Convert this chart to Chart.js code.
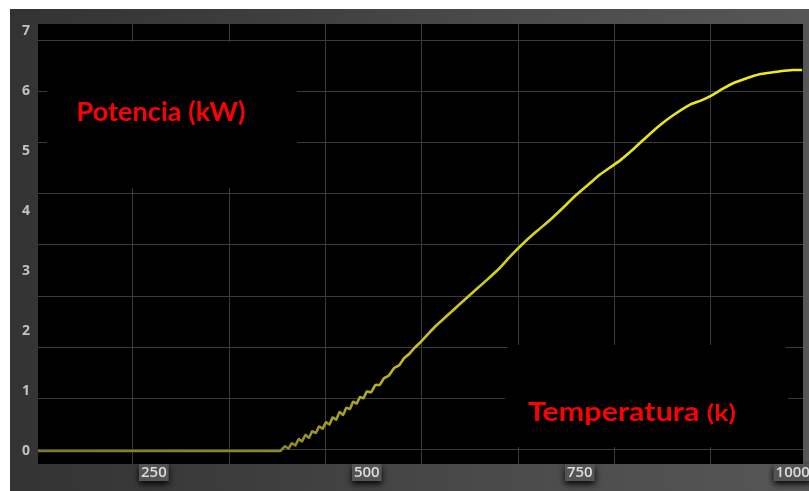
<!DOCTYPE html>
<html>
<head>
<meta charset="utf-8">
<script src="https://cdn.jsdelivr.net/npm/chart.js@4/dist/chart.umd.min.js"></script>
<style>
  html, body { margin: 0; padding: 0; background: #fff; }
  #marco {
    position: absolute; left: 10px; top: 9px; width: 799px; height: 482px;
    background: linear-gradient(to right, #333 0%, #3d3d3d 30%, #4a4a4a 60%, #565656 100%);
  }
  canvas { display: block; }
</style>
</head>
<body>
<div id="marco"><canvas id="grafica" width="799" height="482"></canvas></div>
<script>
  // Temperatura (K) y potencia (kW)
  const temperatura = [114, 398, 400, 404, 408, 412, 416, 420, 424, 428, 432, 436, 440, 444, 448, 452, 456, 460, 464, 468,
    472, 476, 480, 484, 488, 492, 496, 500, 505, 510, 515, 520, 526, 532, 538, 544, 550, 556, 562,
    580, 600, 621, 640, 656, 670, 685, 700, 715, 730, 746, 760, 773, 785, 797, 812, 828, 844, 860,
    879, 892, 904, 917, 930, 945, 961, 975, 985, 1000, 1011];
  const potencia = [0, 0, 0.02, 0.08, 0.04, 0.13, 0.09, 0.2, 0.16, 0.27, 0.22, 0.33, 0.3, 0.41, 0.37, 0.48, 0.44, 0.56, 0.52, 0.65,
    0.6, 0.72, 0.7, 0.82, 0.79, 0.9, 0.88, 0.99, 0.98, 1.1, 1.1, 1.21, 1.26, 1.38, 1.43, 1.55, 1.62, 1.72, 1.8,
    2.07, 2.33, 2.6, 2.84, 3.05, 3.27, 3.48, 3.67, 3.85, 4.05, 4.27, 4.44, 4.6, 4.72, 4.84, 5.02, 5.23, 5.43, 5.6,
    5.77, 5.84, 5.92, 6.03, 6.13, 6.21, 6.28, 6.31, 6.33, 6.35, 6.35];

  const ticksX = [250, 500, 750, 1000];
  const ticksY = [0, 1, 2, 3, 4, 5, 6, 7];
  // la rejilla de la captura no coincide con las etiquetas
  const rejillaX = [1, 2, 3, 4, 5, 6, 7];
  const rejillaY = [0, 1, 2, 3, 4, 5, 6, 7, 8];

  const tituloY = "Potencia (kW)";
  const tituloX = "Temperatura ";
  const unidadX = "(k)";

  const fijarTicks = (valores) => (scale) => { scale.ticks = valores.map(v => ({ value: v })); };

  // fondo negro, cajas de las etiquetas del eje X
  const fondo = {
    id: "fondo",
    beforeDraw(chart) {
      const { ctx, chartArea: a } = chart;
      ctx.save();
      ctx.fillStyle = "#000";
      ctx.fillRect(a.left, a.top, a.right - a.left, a.bottom - a.top);
      const sx = chart.scales.x;
      ctx.font = "600 15px 'Open Sans'";
      ticksX.forEach(v => {
        const px = sx.getPixelForValue(v);
        const w = ctx.measureText(String(v)).width + 4;
        ctx.shadowColor = "rgba(0,0,0,0.95)";
        ctx.shadowBlur = 6;
        ctx.shadowOffsetY = 3;
        ctx.fillStyle = "#545454";
        ctx.fillRect(px - w / 2, a.bottom, w, 17);
      });
      ctx.restore();
    },
    beforeDatasetsDraw(chart) {
      const { ctx } = chart;
      ctx.save();
      ctx.fillStyle = "#000";
      ctx.fillRect(37, 33, 250, 146);
      const caja = [495, 336, 778, 438], c = 5;
      ctx.beginPath();
      ctx.moveTo(caja[0] + c, caja[1]);
      ctx.lineTo(caja[2] - c, caja[1]);
      ctx.lineTo(caja[2], caja[1] + c);
      ctx.lineTo(caja[2], caja[3]);
      ctx.lineTo(caja[0], caja[3]);
      ctx.lineTo(caja[0], caja[1] + c);
      ctx.closePath();
      ctx.fill();

      ctx.fillStyle = "#ff0000";
      ctx.textBaseline = "alphabetic";
      // Potencia (kW)
      ctx.font = "bold 26px Lato";
      let w = ctx.measureText(tituloY).width;
      ctx.save();
      ctx.translate(151 - 169 / 2, 112);
      ctx.scale(169 / w, 1);
      ctx.fillText(tituloY, 0, 0);
      ctx.restore();
      // Temperatura (k)
      ctx.font = "bold 26px Lato";
      const w1 = ctx.measureText(tituloX).width;
      ctx.font = "bold 23px Lato";
      const w2 = ctx.measureText(unidadX).width;
      ctx.save();
      ctx.translate(518, 412);
      ctx.scale(208 / (w1 + w2), 1);
      ctx.font = "bold 26px Lato";
      ctx.fillText(tituloX, 0, 0);
      ctx.font = "bold 23px Lato";
      ctx.fillText(unidadX, w1, 0);
      ctx.restore();
      ctx.restore();
    }
  };

  const grafica = new Chart(document.getElementById("grafica").getContext("2d"), {
    type: "line",
    data: {
      datasets: [{
        data: temperatura.map((t, i) => ({ x: t, y: potencia[i] })),
        borderColor: (context) => {
          const { chart } = context;
          const a = chart.chartArea;
          if (!a) return "#d8d820";
          const g = chart.ctx.createLinearGradient(a.left, 0, a.right, 0);
          g.addColorStop(0, "#7c7a24");
          g.addColorStop(0.32, "#8c8a22");
          g.addColorStop(0.5, "#c4c21e");
          g.addColorStop(0.75, "#e4e21a");
          g.addColorStop(1, "#f2ee14");
          return g;
        },
        borderWidth: 2.6,
        pointRadius: 0,
        tension: 0.15,
        fill: false
      }]
    },
    options: {
      responsive: false,
      devicePixelRatio: 1,
      animation: false,
      layout: { padding: { top: 15, right: 6, left: 0, bottom: 0 } },
      plugins: { legend: { display: false }, tooltip: { enabled: false } },
      scales: {
        x: {
          type: "linear", position: "bottom", min: 114, max: 1012,
          afterBuildTicks: fijarTicks(ticksX),
          afterFit: (s) => { s.height = 27; s.paddingLeft = 0; s.paddingRight = 0; },
          grid: { display: false, drawTicks: false },
          border: { display: false },
          ticks: {
            color: "#dcdcdc", font: { family: "Open Sans", size: 15, weight: "600" }, padding: 0,
            maxRotation: 0, autoSkip: false, callback: (v) => String(v)
          }
        },
        y: {
          type: "linear", position: "left", min: -0.217, max: 7.117,
          afterBuildTicks: fijarTicks(ticksY),
          afterFit: (s) => { s.width = 28; s.paddingTop = 0; s.paddingBottom = 0; },
          grid: { display: false, drawTicks: false },
          border: { display: false },
          ticks: { color: "#c2c2c2", font: { family: "Open Sans", size: 14, weight: "bold" }, padding: 8 }
        },
        x2: {
          type: "linear", position: "top", min: 0.0145, max: 7.955,
          afterBuildTicks: fijarTicks(rejillaX),
          afterFit: (s) => { s.height = 0; s.paddingLeft = 0; s.paddingRight = 0; },
          grid: { color: "#3a3a3a", lineWidth: 1, drawTicks: false },
          border: { display: false },
          ticks: { display: false }
        },
        y2: {
          type: "linear", position: "left", min: -0.279, max: 8.314,
          afterBuildTicks: fijarTicks(rejillaY),
          afterFit: (s) => { s.width = 0; s.paddingTop = 0; s.paddingBottom = 0; },
          grid: { color: "#3a3a3a", lineWidth: 1, drawTicks: false },
          border: { display: false },
          ticks: { display: false }
        }
      }
    },
    plugins: [fondo]
  });
</script>
</body>
</html>
